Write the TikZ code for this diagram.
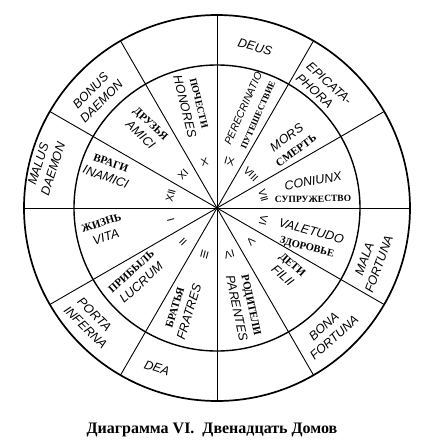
\documentclass[tikz,border=0pt]{standalone}
\usepackage{fontspec}
\setmainfont{Liberation Serif}
\newfontfamily\handfont{Liberation Sans}
\usepackage{tikz}
\usetikzlibrary{positioning}

\newcommand{\hlat}[1]{{\handfont\itshape\fontsize{12.5}{14}\selectfont #1}}
\newcommand{\hrus}[2][11]{{\bfseries\fontsize{#1}{14}\selectfont #2}}
\newcommand{\twoline}[3][c]{\begin{tabular}{@{}#1@{}}#2\\[1.5pt]#3\end{tabular}}

\begin{document}
\begin{tikzpicture}[x=1pt,y=1pt]
			\tikzstyle{every node}+=[inner sep=0pt,font=\fontsize{12}{14}\selectfont]
			\tikzstyle{num}=[font=\handfont\fontsize{10.5}{10.5}\selectfont]
			\useasboundingbox (-217,-240) rectangle (229,208);
			\coordinate (c) at (0,0);
			% rings
			\draw [black,line width=1.7pt] (c) circle (193);
			\draw [black,line width=1.4pt] (c) circle (143);
			% twelve houses
			\foreach \a in {0,30,...,330}
				\draw [black,line width=0.9pt] (c) -- (\a:193);
			\foreach \n/\a in {I/195,II/225,III/255,IV/285,V/315,VI/345,VII/15,VIII/45,IX/75,X/105,XI/135,XII/165}
				\node [num,rotate=\a-90] (n\n) at (\a:48) {\n};
			% inner ring
			\node [rotate=18] (vita) at (-113,-23) {\twoline{\hrus{ЖИЗНЬ}}{\hlat{VITA}}};
			\node [rotate=42] (lucrum) at (-80,-70) {\twoline{\hrus{ПРИБЫЛЬ}}{\hlat{LUCRUM}}};
			\node [rotate=73] (fratres) at (-34,-102) {\twoline{\hrus{БРАТЬЯ}}{\hlat{FRATRES}}};
			\node [rotate=-78] (parentes) at (26,-99) {\twoline{\hrus{РОДИТЕЛИ}}{\hlat{PARENTES}}};
			\node [rotate=-42] (filii) at (70,-63) {\twoline{\hrus{ДЕТИ}}{\hlat{FILII}}};
			\node [rotate=-15] (valetudo) at (92,-32) {\twoline{\hlat{VALETUDO}}{\hrus[10.5]{ЗДОРОВЬЕ}}};
			\node [rotate=10] (coniunx) at (96,27) {\hlat{CONIUNX}};
			\node [rotate=1] (suprug) at (96,9) {\hrus[9.5]{СУПРУЖЕСТВО}};
			\node [rotate=36] (mors) at (75,63) {\twoline{\hlat{MORS}}{\hrus{СМЕРТЬ}}};
			\node [rotate=66] (peregr) at (34,96) {\twoline{{\handfont\itshape\fontsize{10.5}{13}\selectfont PERECRINATIO}}{\hrus[9]{ПУТЕШЕСТВИЕ}}};
			\node [rotate=-76] (honores) at (-26,103) {\twoline{\hrus[10]{ПОЧЕСТИ}}{\hlat{HONORES}}};
			\node [rotate=-43] (amici) at (-72,78) {\twoline{\hrus{ДРУЗЬЯ}}{\hlat{AMICI}}};
			\node [rotate=-20] (inamici) at (-109,37) {\twoline{\hrus{ВРАГИ}}{\hlat{INAMICI}}};
			% outer ring
			\node [rotate=-15] (deus) at (38,161) {\hlat{DEUS}};
			\node [rotate=-42] (epicat) at (106,118) {\twoline[l]{\hlat{EPICATA-}}{\hlat{PHORA}}};
			\node [rotate=70] (malaf) at (156,-54) {\twoline{\hlat{MALA}}{\hlat{FORTUNA}}};
			\node [rotate=42] (bonaf) at (113,-125) {\twoline{\hlat{BONA}}{\hlat{FORTUNA}}};
			\node [rotate=-18] (dea) at (-60,-160) {\hlat{DEA}};
			\node [rotate=-45] (porta) at (-127,-115) {\twoline[l]{\hlat{\ PORTA}}{\hlat{INFERNA}}};
			\node [rotate=72] (malusd) at (-170,41) {\twoline{\hlat{MALUS}}{\hlat{DAEMON}}};
			\node [rotate=45] (bonusd) at (-120,111) {\twoline{\hlat{BONUS}}{\hlat{DAEMON}}};
			% caption
			\node [font=\bfseries\fontsize{16}{18}\selectfont] (caption) at (-5,-222) {Диаграмма VI.\ \ Двенадцать Домов};
\end{tikzpicture}
\end{document}
